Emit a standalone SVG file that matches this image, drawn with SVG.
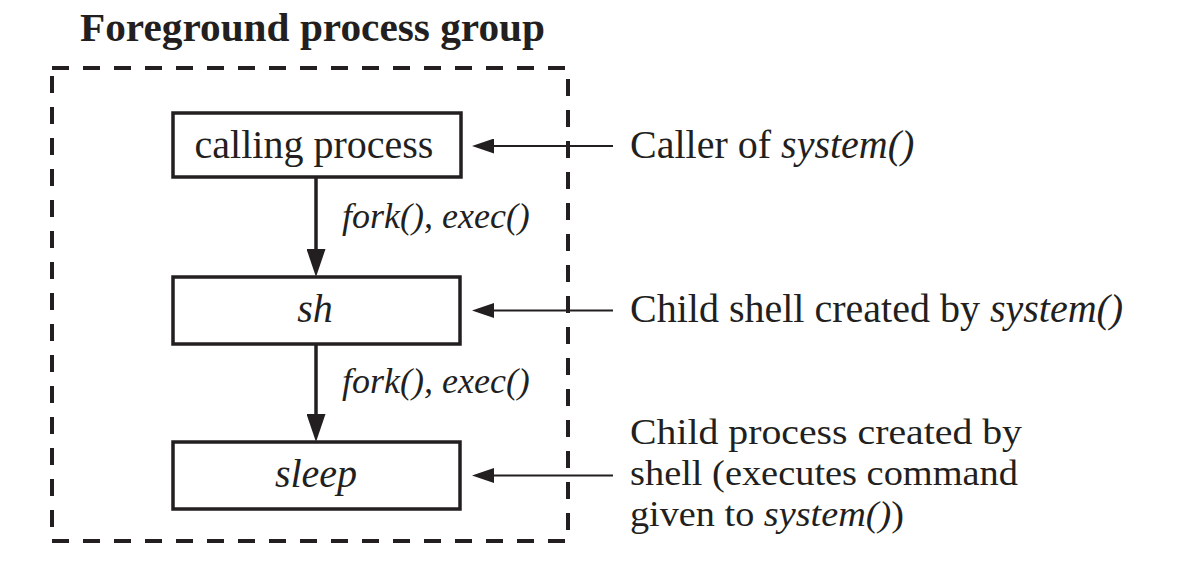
<svg xmlns="http://www.w3.org/2000/svg" width="1184" height="570" viewBox="0 0 1184 570">
<style>
text{font-family:"Liberation Serif","Times New Roman",serif;fill:#231f20}
.t{font-size:40px}
.m{font-size:36.5px}
.it{font-style:italic}
.lbl{font-size:36px;font-style:italic}
.title{font-size:39px;font-weight:bold}
.box{fill:#fff;stroke:#231f20;stroke-width:3.5}
.dash{fill:none;stroke:#231f20;stroke-width:4;stroke-dasharray:17 14}
.thick{stroke:#231f20;stroke-width:3.5;fill:none}
.thin{stroke:#231f20;stroke-width:2;fill:none}
</style>
<defs>
<marker id="bigHead" markerUnits="userSpaceOnUse" markerWidth="28" markerHeight="19" refX="10" refY="9.5" orient="auto">
<path d="M0,0 L28,9.5 L0,19 z" fill="#231f20"/>
</marker>
<marker id="smallHead" markerUnits="userSpaceOnUse" markerWidth="22" markerHeight="15" refX="8" refY="7.5" orient="auto">
<path d="M0,0 L22,7.5 L0,15 z" fill="#231f20"/>
</marker>
</defs>
<rect width="1184" height="570" fill="#fff"/>
<g id="group">
<text class="title" x="80" y="41" textLength="465" lengthAdjust="spacingAndGlyphs">Foreground process group</text>
<rect class="dash" x="52" y="68" width="516" height="473"/>
</g>
<g id="connectors">
<line class="thick" x1="316" y1="177" x2="316" y2="259" marker-end="url(#bigHead)"/>
<line class="thick" x1="316" y1="344" x2="316" y2="424" marker-end="url(#bigHead)"/>
<text class="lbl" x="342" y="228">fork(), exec()</text>
<text class="lbl" x="342" y="393">fork(), exec()</text>
<line class="thin" x1="613" y1="146" x2="486" y2="146" marker-end="url(#smallHead)"/>
<line class="thin" x1="613" y1="310.5" x2="486" y2="310.5" marker-end="url(#smallHead)"/>
<line class="thin" x1="613" y1="475.5" x2="486" y2="475.5" marker-end="url(#smallHead)"/>
</g>
<g id="calling">
<rect class="box" x="173" y="113" width="288" height="64"/>
<text class="t" x="314" y="158" text-anchor="middle">calling process</text>
</g>
<g id="sh">
<rect class="box" x="173" y="277" width="287" height="67"/>
<text class="t it" x="315" y="322" text-anchor="middle">sh</text>
</g>
<g id="sleep">
<rect class="box" x="173" y="442" width="287" height="67"/>
<text class="t it" x="316" y="487" text-anchor="middle">sleep</text>
</g>
<g id="notes">
<text class="t" x="630" y="158">Caller of <tspan class="it">system()</tspan></text>
<text class="t" x="630" y="322">Child shell created by <tspan class="it">system()</tspan></text>
<text class="m" x="630" y="444" textLength="392" lengthAdjust="spacingAndGlyphs">Child process created by</text>
<text class="m" x="630" y="485" textLength="388" lengthAdjust="spacingAndGlyphs">shell (executes command</text>
<text class="m" x="630" y="526" textLength="274" lengthAdjust="spacingAndGlyphs">given to <tspan class="it">system()</tspan>)</text>
</g>
</svg>
